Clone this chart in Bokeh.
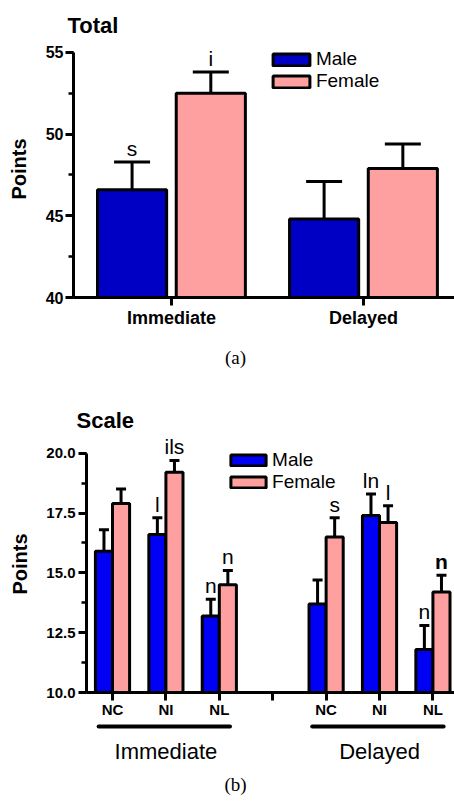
from bokeh.plotting import figure
from bokeh.models import (ColumnDataSource, Range1d, FixedTicker, SingleIntervalTicker,
                          PrintfTickFormatter, Whisker, TeeHead, Label, Legend, LegendItem)
from bokeh.embed import file_html
from bokeh.resources import INLINE
from bokeh.core.properties import value

FONT = "Liberation Sans"
SERIF = "Liberation Serif"

# ---------------- data: (a) Total ----------------
total_groups = ["Immediate", "Delayed"]
total_male = [46.6, 44.8]
total_male_sem = [1.7, 2.3]
total_female = [52.5, 47.9]
total_female_sem = [1.3, 1.5]
total_male_marks = ["s", ""]
total_female_marks = ["i", ""]

# ---------------- data: (b) Scale ----------------
scale_tick_labels = ["NC", "NI", "NL", "", "NC", "NI", "NL"]
scale_groups = ["Immediate", "Delayed"]
scale_group_slots = [[0, 1, 2], [4, 5, 6]]
scale_slots = [0, 1, 2, 4, 5, 6]
scale_male = [15.9, 16.6, 13.2, 13.7, 17.4, 11.8]
scale_male_sem = [0.9, 0.7, 0.7, 1.0, 0.9, 1.0]
scale_female = [17.9, 19.2, 14.5, 16.5, 17.1, 14.2]
scale_female_sem = [0.6, 0.5, 0.6, 0.8, 0.7, 0.7]
scale_male_marks = ["", "l", "n", "", "ln", "n"]
scale_female_marks = ["", "ils", "n", "s", "l", "n"]
scale_female_marks_bold = [False, False, False, False, False, True]

MALE_A = "#0000C4"
MALE_B = "#0000F5"
FEMALE = "#FFA0A0"
W = 454


def style_axes(p, tick_size, label_size):
    for ax in p.axis:
        ax.axis_line_width = 3
        ax.major_tick_line_width = 3
        ax.minor_tick_line_width = 2.5
        ax.major_tick_in = 0
        ax.major_tick_out = 8
        ax.minor_tick_in = 0
        ax.minor_tick_out = 5
        ax.major_label_text_font = FONT
        ax.major_label_text_font_style = "bold"
        ax.major_label_text_color = "black"
        ax.axis_label_text_font = FONT
        ax.axis_label_text_font_style = "bold"
        ax.axis_label_text_font_size = "20px"
        ax.axis_label_text_color = "black"
    p.xaxis.major_label_text_font_size = label_size
    p.yaxis.major_label_text_font_size = tick_size


def bars(p, xs, vals, sems, marks, color, width, bottom, cap, yoff, bold=None):
    up = [v + s for v, s in zip(vals, sems)]
    src = ColumnDataSource(dict(x=xs, top=vals, up=up, m=marks))
    r = p.vbar(x="x", top="top", bottom=bottom, width=width, source=src,
               fill_color=color, line_color="black", line_width=3)
    p.add_layout(Whisker(source=src, base="x", lower="top", upper="up",
                         line_width=3, line_color="black", lower_head=None,
                         upper_head=TeeHead(size=cap, line_width=3, line_color="black")))
    if bold is None:
        bold = [False] * len(xs)
    for flag, style in ((False, "normal"), (True, "bold")):
        idx = [i for i in range(len(xs)) if bold[i] == flag and marks[i]]
        if not idx:
            continue
        tsrc = ColumnDataSource(dict(x=[xs[i] for i in idx], y=[up[i] for i in idx],
                                     t=[marks[i] for i in idx]))
        p.text(x="x", y="y", text="t", source=tsrc, text_align="center",
               text_baseline="bottom", y_offset=yoff, text_font=value(FONT),
               text_font_size="21px", text_font_style=style, text_color="black")
    return r


def make_legend(p, rm, rf, loc, gw, gh):
    leg = Legend(items=[LegendItem(label="Male", renderers=[rm]),
                        LegendItem(label="Female", renderers=[rf])],
                 location=loc, glyph_width=gw, glyph_height=gh, label_height=20,
                 spacing=0, padding=0, margin=0, label_standoff=2,
                 label_text_font=FONT, label_text_font_size="19px",
                 label_text_color="black", label_text_baseline="middle",
                 border_line_alpha=0, background_fill_alpha=0)
    p.add_layout(leg)


def strip(height, left=0, x_range=None):
    s = figure(width=W, height=height, x_range=x_range if x_range is not None else Range1d(0, 1),
               y_range=Range1d(height, 0), output_backend="svg", toolbar_location=None,
               x_axis_type=None, y_axis_type=None,
               min_border_left=left, min_border_right=0, min_border_top=0, min_border_bottom=0)
    s.outline_line_color = None
    s.grid.visible = False
    return s


def caption(s, text, x, y, font, size, style="normal", align="left"):
    s.add_layout(Label(x=x, y=y, x_units="screen", y_units="screen", text=text,
                       text_font=font, text_font_size=size, text_font_style=style,
                       text_align=align, text_baseline="middle", text_color="black"))


# ---------------- title strip (a) ----------------
t1 = strip(40)
caption(t1, "Total", 67, 15.5, FONT, "22px", "bold")

# ---------------- figure (a) ----------------
p1 = figure(width=W, height=290, x_range=Range1d(-0.510, 1.474), y_range=Range1d(40, 55.73),
            output_backend="svg", toolbar_location=None,
            min_border_left=73, min_border_right=0, min_border_top=0, min_border_bottom=32)
p1.outline_line_color = None
p1.grid.visible = False

xa = list(range(len(total_groups)))
rm1 = bars(p1, [x - 0.205 for x in xa], total_male, total_male_sem, total_male_marks,
           MALE_A, 0.36, 40, 36, -2)
rf1 = bars(p1, [x + 0.205 for x in xa], total_female, total_female_sem, total_female_marks,
           FEMALE, 0.36, 40, 36, -2)

p1.xaxis.ticker = FixedTicker(ticks=xa, minor_ticks=[])
p1.xaxis.major_label_overrides = {i: g for i, g in enumerate(total_groups)}
p1.yaxis.ticker = SingleIntervalTicker(interval=5, num_minor_ticks=2)
p1.yaxis.bounds = (40, 55)
p1.yaxis.axis_label = "Points"
style_axes(p1, "16px", "18px")
p1.yaxis.major_label_standoff = 2
p1.yaxis.axis_label_standoff = 13
p1.xaxis.major_label_standoff = 2

make_legend(p1, rm1, rf1, (194.9, 205), 46, 15)

# ---------------- middle strip: (a) caption + Scale title ----------------
mid = strip(105)
caption(mid, "(a)", 235, 78, SERIF, "19px", align="center")
caption(mid, "Scale", 76, 15, FONT, "22px", "bold")

# ---------------- figure (b) ----------------
p2 = figure(width=W, height=285, x_range=Range1d(-0.487, 6.404), y_range=Range1d(10, 20.74),
            output_backend="svg", toolbar_location=None,
            min_border_left=86, min_border_right=0, min_border_top=0, min_border_bottom=28)
p2.outline_line_color = None
p2.grid.visible = False

rm2 = bars(p2, [x - 0.16 for x in scale_slots], scale_male, scale_male_sem, scale_male_marks,
           MALE_B, 0.32, 10, 10, -2)
rf2 = bars(p2, [x + 0.16 for x in scale_slots], scale_female, scale_female_sem, scale_female_marks,
           FEMALE, 0.32, 10, 10, -2, bold=scale_female_marks_bold)

p2.xaxis.ticker = FixedTicker(ticks=list(range(len(scale_tick_labels))), minor_ticks=[])
p2.xaxis.major_label_overrides = {i: t for i, t in enumerate(scale_tick_labels)}
p2.yaxis.ticker = SingleIntervalTicker(interval=2.5, num_minor_ticks=2)
p2.yaxis.formatter = PrintfTickFormatter(format="%.1f")
p2.yaxis.bounds = (10, 20)
p2.yaxis.axis_label = "Points"
style_axes(p2, "15px", "15px")
p2.yaxis.major_label_standoff = 3
p2.yaxis.axis_label_standoff = 12
p2.xaxis.major_label_standoff = 0

make_legend(p2, rm2, rf2, (140.1, 199), 44, 14)

# ---------------- group strip for (b) ----------------
s2 = strip(81, left=86, x_range=p2.x_range)
gx0 = [s[0] - 0.26 for s in scale_group_slots]
gx1 = [s[-1] + 0.2 for s in scale_group_slots]
gxc = [sum(s) / len(s) for s in scale_group_slots]
s2.segment(x0=gx0, x1=gx1, y0=[6, 6], y1=[6, 6], line_width=4, line_color="black",
           line_cap="round")
s2.text(x=gxc, y=[30.5, 30.5], text=scale_groups, text_align="center", text_baseline="middle",
        text_font=value(FONT), text_font_size="22px", text_color="black")
caption(s2, "(b)", 235 - 86, 17, SERIF, "19px", align="center")

open("out.html", "w").write(file_html([t1, p1, mid, p2, s2], INLINE))
